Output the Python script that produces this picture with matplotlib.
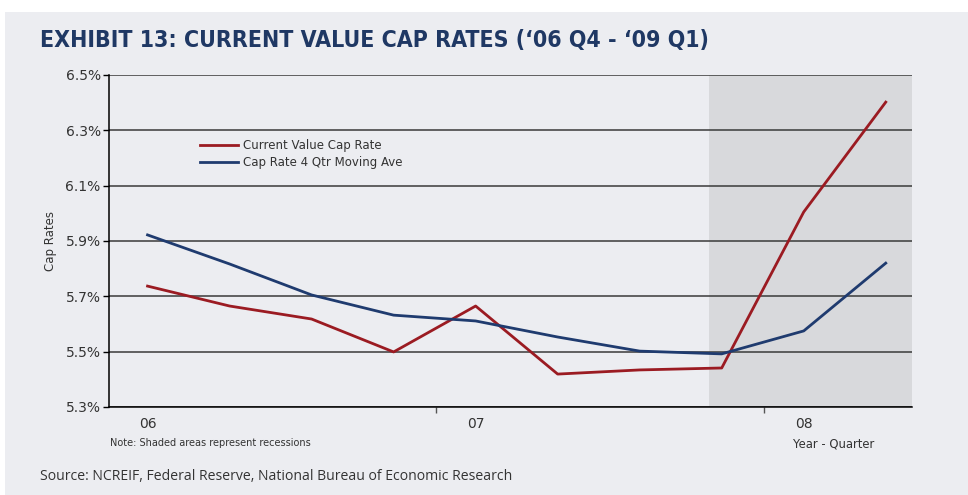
import matplotlib.pyplot as plt
from matplotlib.patches import Rectangle
from matplotlib.ticker import FixedLocator

# quarters from '06 Q4 to '09 Q1 (index positions)
quarters = list(range(10))
current_value = [5.737, 5.665, 5.618, 5.499, 5.665, 5.419, 5.434, 5.441, 6.005, 6.402]
moving_ave = [5.922, 5.817, 5.705, 5.632, 5.611, 5.553, 5.502, 5.492, 5.575, 5.820]
year_labels = ['06', '07', '08']
year_label_pos = [0, 4, 8]
year_tick_pos = [3.52, 7.52]
y_ticks = [5.3, 5.5, 5.7, 5.9, 6.1, 6.3, 6.5]
recession_start = 6.84

bg = '#ecedf1'
red = '#9b1b22'
blue = '#1f3b6f'
txt = '#333333'

fig = plt.figure(figsize=(9.68, 4.95), dpi=100, facecolor='white')
fig.patches.append(Rectangle((5 / 968, 0), 1, 1 - 12 / 495, transform=fig.transFigure,
                             facecolor=bg, edgecolor='none', zorder=-10))

ax = fig.add_axes([109 / 968, 1 - 407 / 495, (912 - 109) / 968, (407 - 75) / 495])
ax.set_facecolor(bg)

xmin, xmax = -0.47, 9.32
ax.axvspan(recession_start, xmax, color='#d8d9dc', zorder=0, lw=0)

for y in y_ticks:
    ax.axhline(y, color='#3a3a3a', lw=1.1, zorder=1)

ax.plot(quarters, current_value, color=red, lw=2.0, label='Current Value Cap Rate', zorder=3)
ax.plot(quarters, moving_ave, color=blue, lw=2.0, label='Cap Rate 4 Qtr Moving Ave', zorder=3)

ax.set_xlim(xmin, xmax)
ax.set_ylim(5.3, 6.5)
ax.set_yticks(y_ticks)
ax.set_yticklabels([f'{v:.1f}%' for v in y_ticks], color=txt, fontsize=10)
ax.tick_params(axis='y', length=4, width=1, color='black', pad=2)

ax.xaxis.set_major_locator(FixedLocator(year_tick_pos))
ax.set_xticklabels([])
ax.tick_params(axis='x', length=4, width=1, color='#555555')
for pos, lab in zip(year_label_pos, year_labels):
    ax.text(pos, -0.03, lab, transform=ax.get_xaxis_transform(), ha='center', va='top',
            fontsize=10, color=txt)

for s in ['top', 'right']:
    ax.spines[s].set_visible(False)
for s in ['left', 'bottom']:
    ax.spines[s].set_color('black')
    ax.spines[s].set_linewidth(1.1)

ax.set_ylabel('Cap Rates', fontsize=8.5, color=txt, labelpad=6)

ax.legend(loc='upper left', bbox_to_anchor=(0.1, 0.84), frameon=False, fontsize=8.5,
          handlelength=3.2, handletextpad=0.45, labelspacing=0.35, labelcolor=txt)

fig.text(40 / 968, 1 - 40 / 495, "EXHIBIT 13: CURRENT VALUE CAP RATES (\u201806 Q4 - \u201809 Q1)",
         fontsize=16.6, fontweight='bold', color='#1f3864', va='center',
         family='DejaVu Sans', fontstretch='condensed')
fig.text(110 / 968, 1 - 443 / 495, 'Note: Shaded areas represent recessions', fontsize=7,
         color=txt, va='center')
fig.text(793 / 968, 1 - 444 / 495, 'Year - Quarter', fontsize=8.4, color=txt, va='center')
fig.text(40 / 968, 1 - 476 / 495, 'Source: NCREIF, Federal Reserve, National Bureau of Economic Research',
         fontsize=10.1, color=txt, va='center', family=['Open Sans', 'DejaVu Sans'])

fig.savefig('out.png', dpi=100, facecolor=fig.get_facecolor())
